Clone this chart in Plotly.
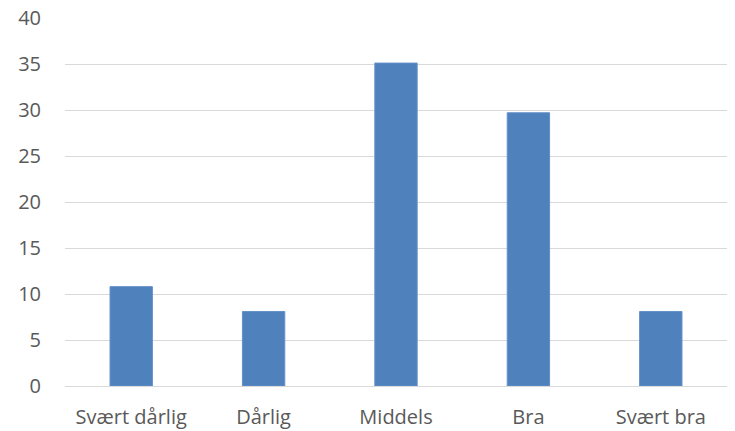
import plotly.graph_objects as go

categories = ["Svært dårlig", "Dårlig", "Middels", "Bra", "Svært bra"]
values = [10.8, 8.1, 35.1, 29.7, 8.1]
y_ticks = [0, 5, 10, 15, 20, 25, 30, 35, 40]

fig = go.Figure(
    go.Bar(
        x=categories,
        y=values,
        marker=dict(color="#4f81bd", line=dict(color="#6390c8", width=1)),
        width=0.32,
    )
)

fig.update_layout(
    width=735,
    height=431,
    margin=dict(l=65, r=8, t=18, b=45),
    paper_bgcolor="white",
    plot_bgcolor="white",
    showlegend=False,
    font=dict(family="Open Sans, Liberation Sans, sans-serif", size=20, color="#595959"),
)
fig.update_xaxes(showgrid=False, showline=False, ticks="", ticklabelstandoff=17,
                 automargin=False, tickfont=dict(size=20))
fig.update_yaxes(
    range=[0, 40],
    tickvals=y_ticks,
    showgrid=True,
    gridcolor="#d9d9d9",
    gridwidth=1,
    zeroline=True,
    zerolinecolor="#d9d9d9",
    zerolinewidth=1,
    showline=False,
    ticks="",
    ticklabelstandoff=23,
    automargin=False,
    tickfont=dict(size=20),
)

fig.write_html("out.html")
